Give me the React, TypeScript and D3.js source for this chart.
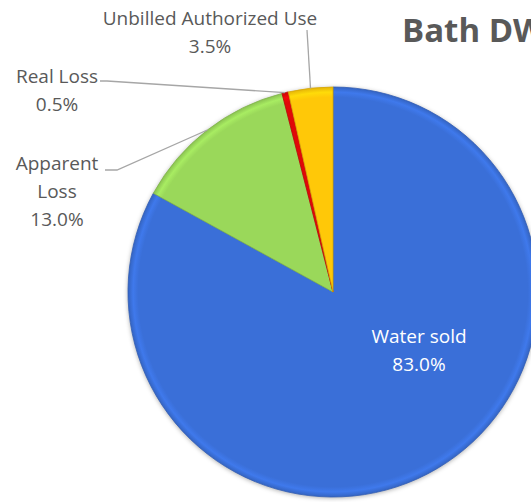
import React from "react";
import * as d3 from "d3";

const categories = ["Water sold", "Apparent Loss", "Real Loss", "Unbilled Authorized Use"];
const values = [83.0, 13.0, 0.5, 3.5];
const colors = ["#3a6fd8", "#9ad85a", "#e00808", "#ffc808"];
const title = "Bath DWD";

// label layout (anchor of the text block, lines)
const labelLines = [["Water sold"], ["Apparent", "Loss"], ["Real Loss"], ["Unbilled Authorized Use"]];
const labelPos: [number, number][] = [[419, 336], [57, 163], [57, 76], [210, 18]];
const leaderElbow: ([number, number] | null)[] = [null, [117, 170], [107, 81], [307, 30]];
const leaderStart: ([number, number] | null)[] = [null, [105, 170], [100, 81], null];

const W = 531, H = 502;
const cx = 333, cy = 292, R = 205;

export default function App() {
  const data = categories.map((c, i) => ({ c, v: values[i], i }));
  const pie = d3.pie<any>().sort(null).value((d) => d.v).startAngle(0).endAngle(2 * Math.PI);
  const arcs = pie(data);
  const arc = d3.arc<any>().innerRadius(0).outerRadius(R);
  const fmt = d3.format(".1f");
  const textColor = "#595959";
  const font = "'Open Sans', sans-serif";
  return (
    <svg width={W} height={H} style={{ position: "absolute", left: 0, top: 0, background: "#fff" }}
      fontFamily={font}>
      <defs>
        <filter id="sh" x="-10%" y="-10%" width="120%" height="120%" colorInterpolationFilters="sRGB">
          <feDropShadow dx="0" dy="1" stdDeviation="2" floodColor="#000" floodOpacity="0.3" />
        </filter>
        {arcs.map((a, i) => (
          <radialGradient key={i} id={"g" + i} cx={0} cy={0} r={R} gradientUnits="userSpaceOnUse">
            <stop offset="0%" stopColor={colors[i]} />
            <stop offset="95%" stopColor={colors[i]} />
            <stop offset="97.5%" stopColor={d3.color(colors[i])!.brighter(0.25).toString()} />
            <stop offset="100%" stopColor={d3.color(colors[i])!.darker(0.3).toString()} />
          </radialGradient>
        ))}
      </defs>
      <text x={402} y={42} fontSize={33} fontWeight="bold" fill={textColor}>{title}</text>
      <g filter="url(#sh)" transform={`translate(${cx},${cy})`}>
        {arcs.map((a, i) => (
          <path key={i} d={arc(a) || ""} fill={`url(#g${i})`}
            stroke={d3.color(colors[i])!.darker(0.5).toString()} strokeWidth={0.8} strokeLinejoin="round" />
        ))}
      </g>
      {arcs.map((a, i) => {
        const el = leaderElbow[i];
        if (!el) return null;
        const m = (a.startAngle + a.endAngle) / 2;
        const px = cx + R * Math.sin(m), py = cy - R * Math.cos(m);
        const st = leaderStart[i];
        const pts = st ? [st, el, [px, py]] : [el, [px, py]];
        return <polyline key={"l" + i} points={pts.map((p) => p.join(",")).join(" ")} fill="none"
          stroke="#a6a6a6" strokeWidth={1.3} />;
      })}
      {arcs.map((a, i) => {
        const [x, y] = labelPos[i];
        const lines = [...labelLines[i], fmt(values[i]) + "%"];
        return (
          <text key={"t" + i} x={x} y={y} textAnchor="middle" fontSize={19}
            fill={i === 0 ? "#ffffff" : textColor}>
            {lines.map((ln, k) => (
              <tspan key={k} x={x} y={y + k * 28} dy="0.35em">{ln}</tspan>
            ))}
          </text>
        );
      })}
    </svg>
  );
}
